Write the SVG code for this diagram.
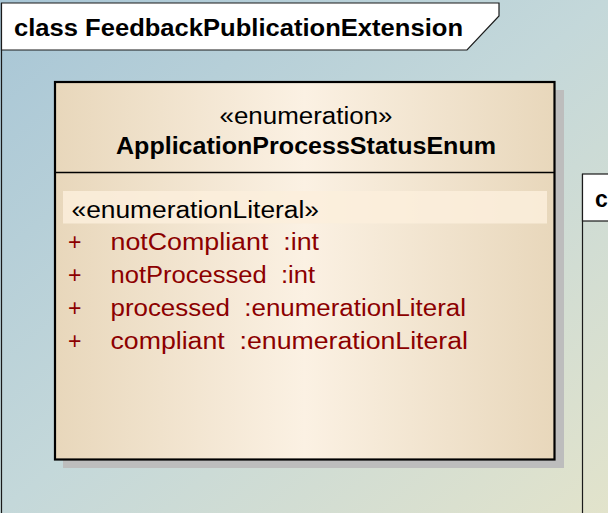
<svg xmlns="http://www.w3.org/2000/svg" width="608" height="513" viewBox="0 0 608 513">
  <defs>
    <linearGradient id="bg" x1="0" y1="0" x2="1" y2="1">
      <stop offset="0" stop-color="#a8c6d6"/>
      <stop offset="0.5" stop-color="#c4d8da"/>
      <stop offset="1" stop-color="#e2e3cb"/>
    </linearGradient>
    <linearGradient id="cls" x1="0" y1="0" x2="1" y2="0">
      <stop offset="0" stop-color="#e8d7bb"/>
      <stop offset="0.5" stop-color="#fbf1e3"/>
      <stop offset="1" stop-color="#e8d7bb"/>
    </linearGradient>
    <style>
      .t { font-family: "Liberation Sans", Arial, sans-serif; }
      .b { font-weight: bold; fill: #000; }
      .lit { fill: #8c0000; }
    </style>
  </defs>
  <rect x="0" y="0" width="608" height="513" fill="url(#bg)"/>

  <g id="frame">
    <line x1="1.5" y1="3" x2="1.5" y2="513" stroke="#1a1a1a" stroke-width="1.2"/>
    <path d="M1.5,3 H499 V16 L467,50 H1.5 Z" fill="#fff" stroke="#1a1a1a" stroke-width="1.2"/>
    <text class="t b" x="14" y="36" font-size="23" textLength="449" lengthAdjust="spacingAndGlyphs">class FeedbackPublicationExtension</text>
  </g>

  <g id="frame2">
    <line x1="582.5" y1="174" x2="582.5" y2="513" stroke="#1a1a1a" stroke-width="1.2"/>
    <rect x="582.5" y="174" width="30" height="47" fill="#fff" stroke="#1a1a1a" stroke-width="1.2"/>
    <text class="t b" x="595" y="207" font-size="23">c</text>
  </g>

  <g id="ApplicationProcessStatusEnum">
    <rect x="63" y="90" width="501" height="378" fill="#bdbdbd"/>
    <rect x="55" y="82" width="499.5" height="377.5" fill="url(#cls)" stroke="#000" stroke-width="2.2"/>
    <line x1="55" y1="172.5" x2="554.5" y2="172.5" stroke="#000" stroke-width="1.6"/>
    <rect x="63" y="191" width="484" height="32.5" fill="#fcefdc" opacity="0.85"/>
    <text class="t" x="306" y="123.5" font-size="23" text-anchor="middle" textLength="173" lengthAdjust="spacingAndGlyphs">«enumeration»</text>
    <text class="t b" x="306" y="154" font-size="23" text-anchor="middle" textLength="380" lengthAdjust="spacingAndGlyphs">ApplicationProcessStatusEnum</text>
    <text class="t" x="71.5" y="217.5" font-size="23" textLength="247.5" lengthAdjust="spacingAndGlyphs">«enumerationLiteral»</text>
    <g class="t lit" font-size="23">
      <text x="68" y="249.5">+</text>
      <text x="110.5" y="249.5" xml:space="preserve" textLength="208.5" lengthAdjust="spacingAndGlyphs">notCompliant  :int</text>
      <text x="68" y="282.5">+</text>
      <text x="110.5" y="282.5" xml:space="preserve" textLength="204.5" lengthAdjust="spacingAndGlyphs">notProcessed  :int</text>
      <text x="68" y="315.5">+</text>
      <text x="110.5" y="315.5" xml:space="preserve" textLength="355.5" lengthAdjust="spacingAndGlyphs">processed  :enumerationLiteral</text>
      <text x="68" y="348.5">+</text>
      <text x="110.5" y="348.5" xml:space="preserve" textLength="357.5" lengthAdjust="spacingAndGlyphs">compliant  :enumerationLiteral</text>
    </g>
  </g>
</svg>
